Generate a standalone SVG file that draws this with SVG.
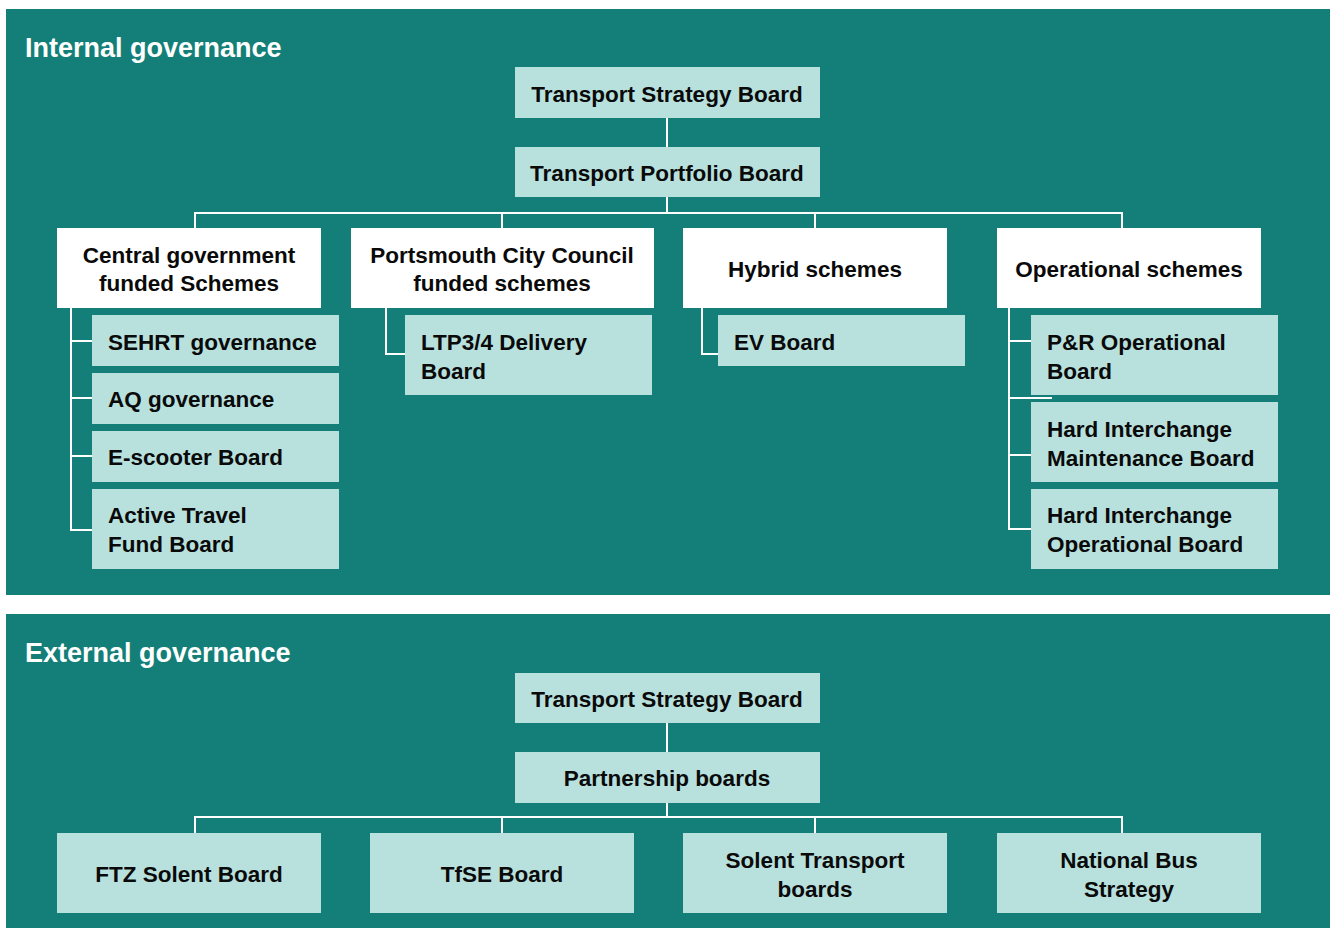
<svg xmlns="http://www.w3.org/2000/svg" width="1335" height="928" viewBox="0 0 1335 928">
<style>
.panel{fill:#137f78}
.title{font-family:"Liberation Sans",Arial,sans-serif;font-weight:bold;font-size:27px;fill:#ffffff}
.w{fill:#ffffff}
.l{fill:#b8e1de}
.t{font-family:"Liberation Sans",Arial,sans-serif;font-weight:bold;font-size:22.5px;fill:#0a0a0a}
.c{text-anchor:middle}
.conn line,.conn polyline{stroke:#ffffff;stroke-width:2;fill:none}
</style>
<rect width="1335" height="928" fill="#ffffff"/>
<rect class="panel" x="6" y="9" width="1324" height="586"/>
<rect class="panel" x="6" y="614" width="1324" height="314"/>
<text class="title" x="25" y="57">Internal governance</text>
<text class="title" x="25" y="662">External governance</text>

<g class="conn" id="connectors">
<line x1="667" y1="118" x2="667" y2="147"/>
<line x1="667" y1="197" x2="667" y2="213"/>
<line x1="194" y1="213" x2="1123" y2="213"/>
<line x1="195" y1="213" x2="195" y2="228"/>
<line x1="502" y1="213" x2="502" y2="228"/>
<line x1="815" y1="213" x2="815" y2="228"/>
<line x1="1122" y1="213" x2="1122" y2="228"/>
<polyline points="71,307 71,530 92,530"/>
<line x1="71" y1="341" x2="92" y2="341"/>
<line x1="71" y1="398" x2="92" y2="398"/>
<line x1="71" y1="456" x2="92" y2="456"/>
<polyline points="386,307 386,354 405,354"/>
<polyline points="702,307 702,354 718,354"/>
<polyline points="1009,307 1009,529 1031,529"/>
<line x1="1009" y1="341" x2="1031" y2="341"/>
<line x1="1009" y1="398" x2="1052" y2="398"/>
<line x1="1009" y1="455" x2="1031" y2="455"/>
<line x1="667" y1="723" x2="667" y2="752"/>
<line x1="667" y1="803" x2="667" y2="817"/>
<line x1="194" y1="817" x2="1123" y2="817"/>
<line x1="195" y1="817" x2="195" y2="833"/>
<line x1="502" y1="817" x2="502" y2="833"/>
<line x1="815" y1="817" x2="815" y2="833"/>
<line x1="1122" y1="817" x2="1122" y2="833"/>
</g>

<g id="int-tsb"><rect class="l" x="515" y="67" width="305" height="51"/><text class="t c" x="667" y="102">Transport Strategy Board</text></g>
<g id="int-tpb"><rect class="l" x="515" y="147" width="305" height="50"/><text class="t c" x="667" y="181">Transport Portfolio Board</text></g>

<g id="central"><rect class="w" x="57" y="228" width="264" height="80"/><text class="t c" x="189" y="263">Central government</text><text class="t c" x="189" y="291">funded Schemes</text></g>
<g id="pcc"><rect class="w" x="351" y="228" width="303" height="80"/><text class="t c" x="502" y="263">Portsmouth City Council</text><text class="t c" x="502" y="291">funded schemes</text></g>
<g id="hybrid"><rect class="w" x="683" y="228" width="264" height="80"/><text class="t c" x="815" y="277">Hybrid schemes</text></g>
<g id="operational"><rect class="w" x="997" y="228" width="264" height="80"/><text class="t c" x="1129" y="277">Operational schemes</text></g>

<g id="sehrt"><rect class="l" x="92" y="315" width="247" height="51"/><text class="t" x="108" y="350">SEHRT governance</text></g>
<g id="aq"><rect class="l" x="92" y="373" width="247" height="51"/><text class="t" x="108" y="407">AQ governance</text></g>
<g id="escooter"><rect class="l" x="92" y="431" width="247" height="51"/><text class="t" x="108" y="465">E-scooter Board</text></g>
<g id="atf"><rect class="l" x="92" y="489" width="247" height="80"/><text class="t" x="108" y="523">Active Travel</text><text class="t" x="108" y="552">Fund Board</text></g>

<g id="ltp"><rect class="l" x="405" y="315" width="247" height="80"/><text class="t" x="421" y="350">LTP3/4 Delivery</text><text class="t" x="421" y="379">Board</text></g>
<g id="ev"><rect class="l" x="718" y="315" width="247" height="51"/><text class="t" x="734" y="350">EV Board</text></g>

<g id="pr"><rect class="l" x="1031" y="315" width="247" height="80"/><text class="t" x="1047" y="350">P&amp;R Operational</text><text class="t" x="1047" y="379">Board</text></g>
<g id="him"><rect class="l" x="1031" y="402" width="247" height="80"/><text class="t" x="1047" y="437">Hard Interchange</text><text class="t" x="1047" y="466">Maintenance Board</text></g>
<g id="hio"><rect class="l" x="1031" y="489" width="247" height="80"/><text class="t" x="1047" y="523">Hard Interchange</text><text class="t" x="1047" y="552">Operational Board</text></g>

<g id="ext-tsb"><rect class="l" x="515" y="673" width="305" height="50"/><text class="t c" x="667" y="707">Transport Strategy Board</text></g>
<g id="partnership"><rect class="l" x="515" y="752" width="305" height="51"/><text class="t c" x="667" y="786">Partnership boards</text></g>

<g id="ftz"><rect class="l" x="57" y="833" width="264" height="80"/><text class="t c" x="189" y="882">FTZ Solent Board</text></g>
<g id="tfse"><rect class="l" x="370" y="833" width="264" height="80"/><text class="t c" x="502" y="882">TfSE Board</text></g>
<g id="solent"><rect class="l" x="683" y="833" width="264" height="80"/><text class="t c" x="815" y="868">Solent Transport</text><text class="t c" x="815" y="897">boards</text></g>
<g id="nbs"><rect class="l" x="997" y="833" width="264" height="80"/><text class="t c" x="1129" y="868">National Bus</text><text class="t c" x="1129" y="897">Strategy</text></g>
</svg>
